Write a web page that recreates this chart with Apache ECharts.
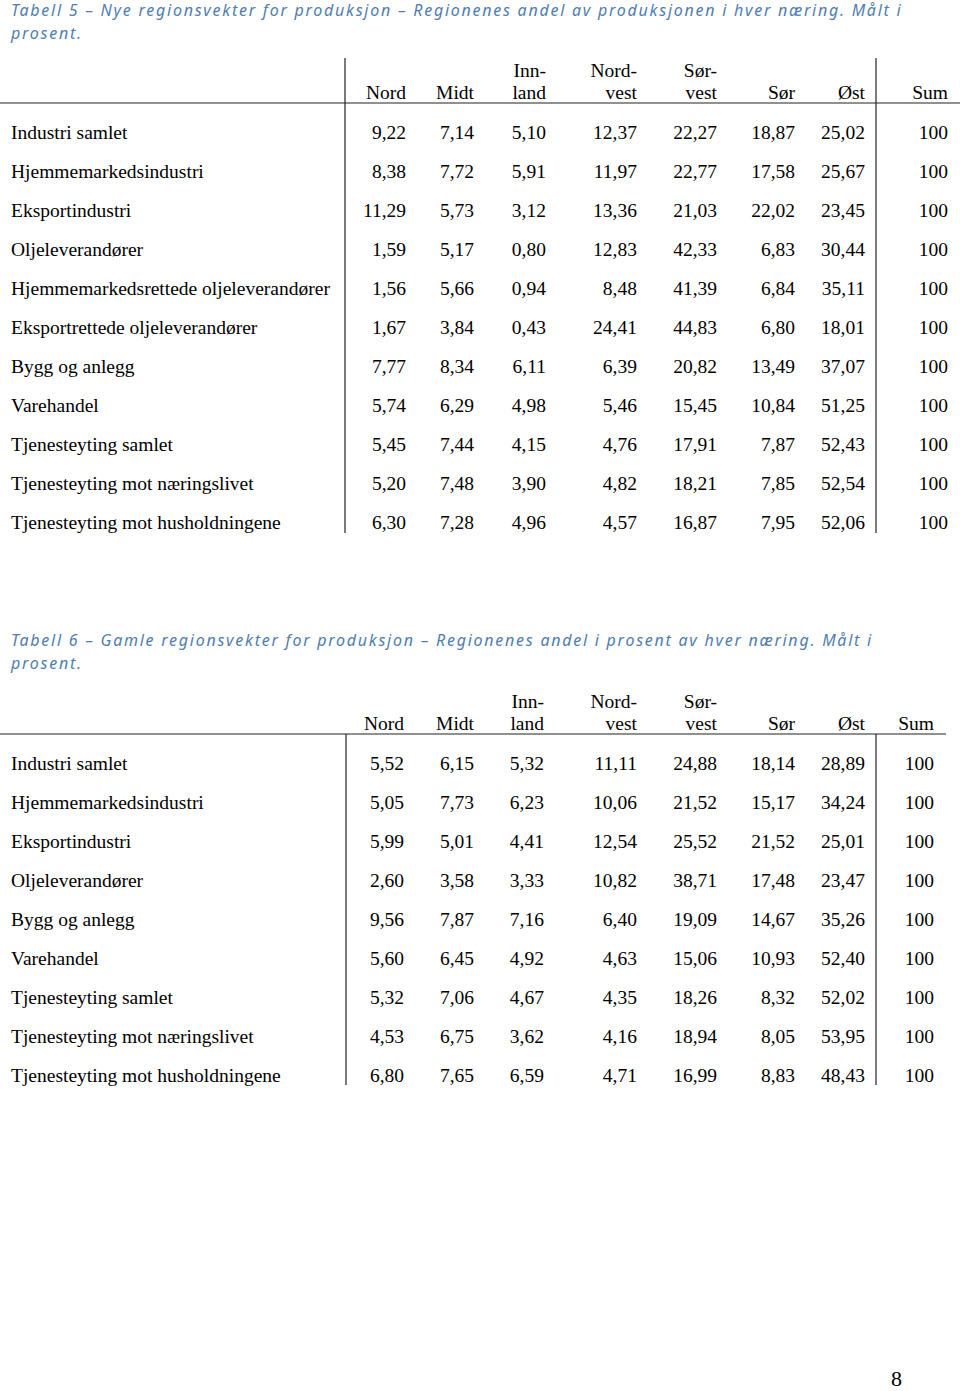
<!DOCTYPE html>
<html><head><meta charset="utf-8">
<script src="https://cdn.jsdelivr.net/npm/echarts@6/dist/echarts.min.js"></script>
<style>html,body{margin:0;padding:0;background:#fff}#c{width:960px;height:1391px}
#c text[fill="#4f7db0"], #c text[style*="italic"]{letter-spacing:1.75px}</style>
</head><body><div id="c"></div>
<script>
// ---------- DATA ----------
const title5 = 'Tabell 5 – Nye regionsvekter for produksjon – Regionenes andel av produksjonen i hver næring. Målt i\nprosent.';
const title6 = 'Tabell 6 – Gamle regionsvekter for produksjon – Regionenes andel i prosent av hver næring. Målt i\nprosent.';
const pageNumber = '8';
const columns = ['Nord', 'Midt', 'Inn-\nland', 'Nord-\nvest', 'Sør-\nvest', 'Sør', 'Øst', 'Sum'];

const rows5 = ['Industri samlet', 'Hjemmemarkedsindustri', 'Eksportindustri', 'Oljeleverandører',
  'Hjemmemarkedsrettede oljeleverandører', 'Eksportrettede oljeleverandører', 'Bygg og anlegg',
  'Varehandel', 'Tjenesteyting samlet', 'Tjenesteyting mot næringslivet', 'Tjenesteyting mot husholdningene'];
const nord5     = [9.22, 8.38, 11.29, 1.59, 1.56, 1.67, 7.77, 5.74, 5.45, 5.20, 6.30];
const midt5     = [7.14, 7.72, 5.73, 5.17, 5.66, 3.84, 8.34, 6.29, 7.44, 7.48, 7.28];
const innland5  = [5.10, 5.91, 3.12, 0.80, 0.94, 0.43, 6.11, 4.98, 4.15, 3.90, 4.96];
const nordvest5 = [12.37, 11.97, 13.36, 12.83, 8.48, 24.41, 6.39, 5.46, 4.76, 4.82, 4.57];
const sorvest5  = [22.27, 22.77, 21.03, 42.33, 41.39, 44.83, 20.82, 15.45, 17.91, 18.21, 16.87];
const sor5      = [18.87, 17.58, 22.02, 6.83, 6.84, 6.80, 13.49, 10.84, 7.87, 7.85, 7.95];
const ost5      = [25.02, 25.67, 23.45, 30.44, 35.11, 18.01, 37.07, 51.25, 52.43, 52.54, 52.06];
const sum5      = [100, 100, 100, 100, 100, 100, 100, 100, 100, 100, 100];

const rows6 = ['Industri samlet', 'Hjemmemarkedsindustri', 'Eksportindustri', 'Oljeleverandører',
  'Bygg og anlegg', 'Varehandel', 'Tjenesteyting samlet', 'Tjenesteyting mot næringslivet',
  'Tjenesteyting mot husholdningene'];
const nord6     = [5.52, 5.05, 5.99, 2.60, 9.56, 5.60, 5.32, 4.53, 6.80];
const midt6     = [6.15, 7.73, 5.01, 3.58, 7.87, 6.45, 7.06, 6.75, 7.65];
const innland6  = [5.32, 6.23, 4.41, 3.33, 7.16, 4.92, 4.67, 3.62, 6.59];
const nordvest6 = [11.11, 10.06, 12.54, 10.82, 6.40, 4.63, 4.35, 4.16, 4.71];
const sorvest6  = [24.88, 21.52, 25.52, 38.71, 19.09, 15.06, 18.26, 18.94, 16.99];
const sor6      = [18.14, 15.17, 21.52, 17.48, 14.67, 10.93, 8.32, 8.05, 8.83];
const ost6      = [28.89, 34.24, 25.01, 23.47, 35.26, 52.40, 52.02, 53.95, 48.43];
const sum6      = [100, 100, 100, 100, 100, 100, 100, 100, 100];

// ---------- LAYOUT / STYLE ----------
const FONT = '"Liberation Serif", "Times New Roman", serif';
const FS = 19.5;
const TITLE_COLOR = '#4f7db0';
const ROW_H = 39;
const nudge5 = [22.6, 13.7, 8.8, 22.9, 26.1, 27.2, 20.3, 26.4];
const nudge6 = [20.6, 13.7, 6.8, 22.9, 26.1, 27.2, 20.3, 12.4];

function fmt(v, col) {
  return col === 7 ? String(v) : v.toFixed(2).replace('.', ',');
}
function buildCells(cols) {
  const out = [];
  columns.forEach((h, c) => out.push([c, 0, h, 1]));
  cols.forEach((arr, c) => arr.forEach((v, r) => out.push([c, r + 1, fmt(v, c), 0])));
  return out;
}
const cells5 = buildCells([nord5, midt5, innland5, nordvest5, sorvest5, sor5, ost5, sum5]);
const cells6 = buildCells([nord6, midt6, innland6, nordvest6, sorvest6, sor6, ost6, sum6]);

function renderer(nudge) {
  return function (params, api) {
    const c = api.value(0), r = api.value(1);
    const src = params.seriesIndex === 0 ? cells5 : cells6;
    const item = src[params.dataIndex];
    const p = api.coord([c, r]);
    const isHead = item[3] === 1;
    return {
      type: 'text',
      x: p[0] + nudge[c],
      y: isHead ? p[1] + 10 : p[1],
      style: {
        text: item[2], fill: '#000', font: FS + 'px ' + FONT,
        align: 'right', verticalAlign: isHead ? 'bottom' : 'middle', lineHeight: 22
      }
    };
  };
}

const grid5Top = 132 - ROW_H * 1.5;
const grid6Top = 763 - ROW_H * 1.5;
const titleStyle = { fontFamily: '"Noto Sans"', fontStyle: 'italic', fontWeight: 'normal', fontSize: 16, color: TITLE_COLOR, lineHeight: 23 };

const chart = echarts.init(document.getElementById('c'), null, { renderer: 'svg' });
const yLabel = { align: 'left', margin: 334, fontFamily: FONT, fontSize: FS, color: '#000' };
chart.setOption({
  animation: false,
  backgroundColor: '#fff',
  title: [
    { text: title5, left: 11, top: -2, padding: 0, textStyle: titleStyle },
    { text: title6, left: 11, top: 628, padding: 0, textStyle: titleStyle },
    { text: pageNumber, left: 891, top: 1367, padding: 0, textStyle: { fontFamily: FONT, fontWeight: 'normal', fontSize: 22, color: '#000' } }
  ],
  grid: [
    { left: 345, width: 615, top: grid5Top, height: ROW_H * (rows5.length + 1) },
    { left: 345, width: 615, top: grid6Top, height: ROW_H * (rows6.length + 1) }
  ],
  xAxis: [
    { type: 'category', gridIndex: 0, data: columns, show: false },
    { type: 'category', gridIndex: 1, data: columns, show: false }
  ],
  yAxis: [
    { type: 'category', gridIndex: 0, inverse: true, data: [''].concat(rows5),
      axisLine: { show: false }, axisTick: { show: false }, splitLine: { show: false }, axisLabel: yLabel },
    { type: 'category', gridIndex: 1, inverse: true, data: [''].concat(rows6),
      axisLine: { show: false }, axisTick: { show: false }, splitLine: { show: false }, axisLabel: yLabel }
  ],
  series: [
    { type: 'custom', xAxisIndex: 0, yAxisIndex: 0, data: cells5.map(d => [d[0], d[1]]), renderItem: renderer(nudge5) },
    { type: 'custom', xAxisIndex: 1, yAxisIndex: 1, data: cells6.map(d => [d[0], d[1]]), renderItem: renderer(nudge6) }
  ],
  graphic: [
    { type: 'line', shape: { x1: 0, y1: 103, x2: 960, y2: 103 }, style: { stroke: '#222', lineWidth: 1.2 } },
    { type: 'line', shape: { x1: 345, y1: 58, x2: 345, y2: 533 }, style: { stroke: '#222', lineWidth: 1.2 } },
    { type: 'line', shape: { x1: 876, y1: 58, x2: 876, y2: 533 }, style: { stroke: '#222', lineWidth: 1.2 } },
    { type: 'line', shape: { x1: 0, y1: 734, x2: 946, y2: 734 }, style: { stroke: '#222', lineWidth: 1.2 } },
    { type: 'line', shape: { x1: 346, y1: 734, x2: 346, y2: 1085 }, style: { stroke: '#222', lineWidth: 1.2 } },
    { type: 'line', shape: { x1: 876, y1: 734, x2: 876, y2: 1085 }, style: { stroke: '#222', lineWidth: 1.2 } }
  ]
});
</script></body></html>
